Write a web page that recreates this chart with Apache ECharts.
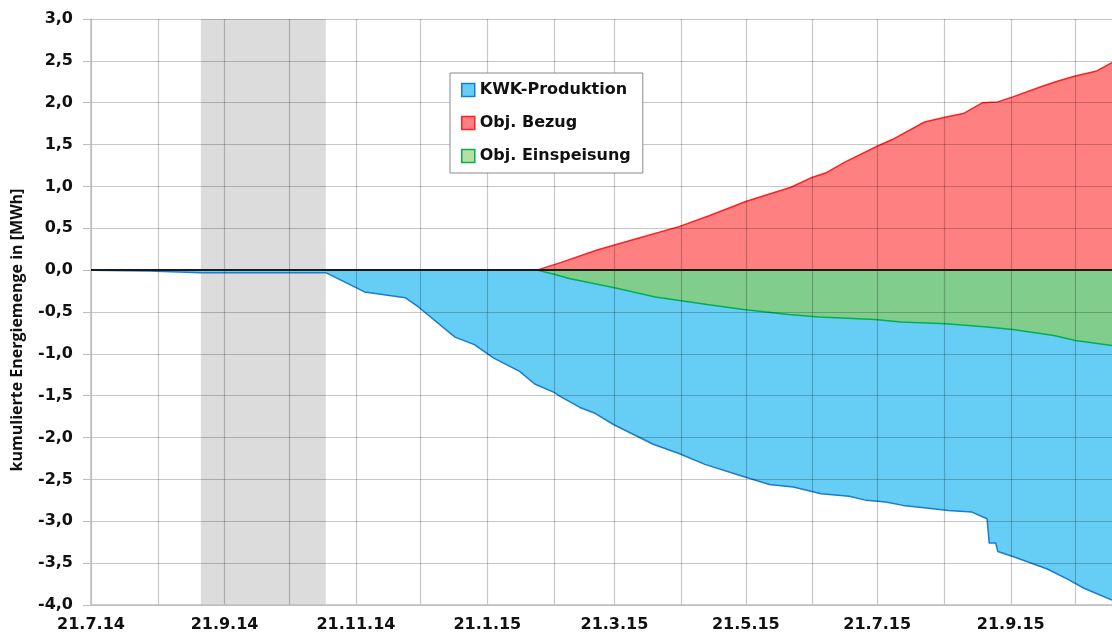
<!DOCTYPE html>
<html>
<head>
<meta charset="utf-8">
<script src="https://cdn.jsdelivr.net/npm/echarts@6/dist/echarts.min.js"></script>
<style>html,body{margin:0;padding:0;background:#fff}#c{width:1112px;height:640px}</style>
</head>
<body>
<div id="c"></div>
<script>
// ---- data ----
var kwkDates = ['2014-07-21','2014-08-17','2014-09-10','2014-11-07','2014-11-25','2014-12-14','2014-12-20','2015-01-06','2015-01-15','2015-01-24','2015-02-05','2015-02-12','2015-02-21','2015-02-24','2015-03-05','2015-03-12','2015-03-21','2015-04-08','2015-04-20','2015-05-02','2015-05-18','2015-06-01','2015-06-12','2015-06-25','2015-07-08','2015-07-16','2015-07-25','2015-08-02','2015-08-16','2015-08-23','2015-09-03','2015-09-10','2015-09-11','2015-09-14','2015-09-15','2015-09-23','2015-10-08','2015-10-18','2015-10-25','2015-11-07'];
var kwkValues = [0,-0.01,-0.03,-0.03,-0.26,-0.33,-0.44,-0.80,-0.89,-1.05,-1.21,-1.36,-1.46,-1.51,-1.64,-1.71,-1.85,-2.08,-2.19,-2.32,-2.45,-2.56,-2.59,-2.67,-2.70,-2.75,-2.77,-2.81,-2.85,-2.87,-2.89,-2.97,-3.26,-3.26,-3.36,-3.43,-3.57,-3.70,-3.80,-3.94];

var bezugDates = ['2015-02-13','2015-02-24','2015-03-13','2015-04-01','2015-04-20','2015-05-04','2015-05-21','2015-06-11','2015-06-20','2015-06-27','2015-07-06','2015-07-21','2015-07-28','2015-08-12','2015-08-22','2015-08-30','2015-09-08','2015-09-15','2015-09-22','2015-10-05','2015-10-13','2015-10-21','2015-10-31','2015-11-07'];
var bezugValues = [0,0.09,0.24,0.38,0.52,0.65,0.82,0.99,1.10,1.16,1.29,1.48,1.56,1.77,1.83,1.87,2.00,2.01,2.07,2.19,2.26,2.32,2.38,2.48];

var einspDates = ['2015-02-13','2015-02-21','2015-02-28','2015-03-21','2015-04-09','2015-05-03','2015-05-20','2015-06-10','2015-06-24','2015-07-20','2015-08-01','2015-08-22','2015-09-10','2015-09-22','2015-10-11','2015-10-21','2015-11-07'];
var einspValues = [0,-0.05,-0.10,-0.21,-0.32,-0.41,-0.47,-0.53,-0.56,-0.59,-0.62,-0.64,-0.68,-0.71,-0.78,-0.84,-0.90];

var monthTicks = ['2014-07-21','2014-08-21','2014-09-21','2014-10-21','2014-11-21','2014-12-21','2015-01-21','2015-02-21','2015-03-21','2015-04-21','2015-05-21','2015-06-21','2015-07-21','2015-08-21','2015-09-21','2015-10-21'];
var labelTicks = ['2014-07-21','2014-09-21','2014-11-21','2015-01-21','2015-03-21','2015-05-21','2015-07-21','2015-09-21'];
var xStart = '2014-07-21', xEnd = '2015-11-07';
var greyBand = ['2014-09-10','2014-11-07'];
var seriesNames = ['KWK-Produktion','Obj. Bezug','Obj. Einspeisung'];

// ---- helpers ----
function ts(s){ var p = s.split('-'); return new Date(+p[0], +p[1]-1, +p[2]).getTime(); }
function pairs(d, v){ return d.map(function(x,i){ return [ts(x), v[i]]; }); }
function fmtDate(t){ var d = new Date(t); return d.getDate()+'.'+(d.getMonth()+1)+'.'+String(d.getFullYear()).slice(2); }

var FONT = '"DejaVu Sans", sans-serif';
var gridCol = 'rgba(0,0,0,0.22)';

var chart = echarts.init(document.getElementById('c'));
chart.setOption({
  animation: false,
  backgroundColor: '#fff',
  grid: { left: 91, right: 0, top: 19, bottom: 35, containLabel: false, outerBoundsMode: 'none' },
  legend: {
    left: 450, top: 73, orient: 'vertical',
    backgroundColor: '#fff', borderColor: '#8a8a8a', borderWidth: 1,
    padding: [7, 12, 7, 11], itemGap: 13, itemWidth: 13, itemHeight: 13,
    icon: 'rect',
    textStyle: { fontFamily: FONT, fontWeight: 'bold', fontSize: 16, color: '#111', lineHeight: 20 },
    data: [
      { name: seriesNames[0], itemStyle: { color: '#66cef5', borderColor: '#1a7ccc', borderWidth: 1.5 } },
      { name: seriesNames[1], itemStyle: { color: '#ff8080', borderColor: '#ff2020', borderWidth: 1.5 } },
      { name: seriesNames[2], itemStyle: { color: '#b5e0a0', borderColor: '#00b050', borderWidth: 1.5 } }
    ]
  },
  xAxis: {
    type: 'value', min: ts(xStart), max: ts(xEnd), z: 3, scale: true,
    axisLine: { show: true, onZero: false, lineStyle: { color: '#bdbdbd', width: 1.5 } },
    axisTick: { show: false, customValues: monthTicks.map(ts) },
    splitLine: { show: true, lineStyle: { color: gridCol, width: 1.2 } },
    axisLabel: {
      customValues: labelTicks.map(ts), formatter: function(v){ return fmtDate(v); },
      fontFamily: FONT, fontWeight: 'bold', fontSize: 16, color: '#111', margin: 12,
      hideOverlap: false, showMinLabel: true, showMaxLabel: true
    }
  },
  yAxis: {
    type: 'value', min: -4, max: 3, interval: 0.5, z: 3,
    name: 'kumulierte Energiemenge in [MWh]', nameLocation: 'middle', nameGap: 66, nameRotate: 90,
    nameTextStyle: { fontFamily: '"Open Sans", sans-serif', fontWeight: 'bold', fontSize: 16, color: '#111', padding: [0, 36, 0, 0] },
    axisLine: { show: true, lineStyle: { color: '#bdbdbd', width: 1.5 } },
    axisTick: { show: true, length: 8, lineStyle: { color: '#bdbdbd' } },
    splitLine: { show: true, lineStyle: { color: gridCol, width: 1.2 } },
    axisLabel: {
      formatter: function(v){ return v.toFixed(1).replace('.', ','); },
      fontFamily: FONT, fontWeight: 'bold', fontSize: 16, color: '#111', margin: 18
    }
  },
  series: [
    { name: 'band', type: 'line', data: [], z: 1, silent: true,
      markArea: { silent: true, itemStyle: { color: '#dcdcdc' },
        data: [[ { xAxis: ts(greyBand[0]) }, { xAxis: ts(greyBand[1]) } ]] } },
    { name: seriesNames[0], type: 'line', data: pairs(kwkDates, kwkValues), z: 2,
      symbol: 'none', lineStyle: { color: '#1a7ccc', width: 1.5 },
      itemStyle: { color: '#66cef5' },
      areaStyle: { color: '#66cef5', opacity: 1 } },
    { name: seriesNames[2], type: 'line', data: pairs(einspDates, einspValues), z: 2,
      symbol: 'none', lineStyle: { color: '#00b050', width: 1.5 },
      itemStyle: { color: '#80cd8c' },
      areaStyle: { color: '#80cd8c', opacity: 1 } },
    { name: seriesNames[1], type: 'line', data: pairs(bezugDates, bezugValues), z: 2,
      symbol: 'none', lineStyle: { color: '#ff2020', width: 1.5 },
      itemStyle: { color: '#ff8080' },
      areaStyle: { color: '#ff8080', opacity: 1 } },
    { name: 'zero', type: 'line', data: [], z: 5, silent: true,
      markLine: { silent: true, symbol: 'none', label: { show: false },
        lineStyle: { color: '#1a1a1a', width: 2.2, type: 'solid' },
        data: [ { yAxis: 0 } ] } }
  ]
});
</script>
</body>
</html>
